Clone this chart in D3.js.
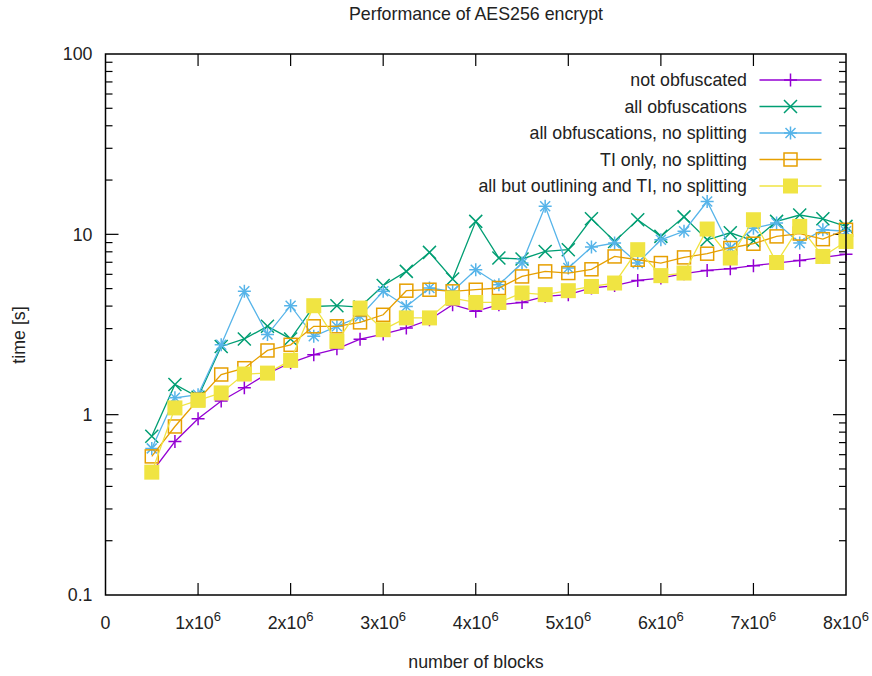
<!DOCTYPE html>
<html lang="en">
<head>
<meta charset="UTF-8">
<script src="https://d3js.org/d3.v7.min.js"></script>
<style>
  body { margin: 0; background: #fff; }
  svg text { font-family: "Liberation Sans", Arial, sans-serif; font-size: 17.8px; fill: #222; }
</style>
</head>
<body>
<div id="chart"></div>
<script>
// number of blocks (x values)
const blocks = [0.5e6, 0.75e6, 1e6, 1.25e6, 1.5e6, 1.75e6, 2e6, 2.25e6, 2.5e6, 2.75e6,
  3e6, 3.25e6, 3.5e6, 3.75e6, 4e6, 4.25e6, 4.5e6, 4.75e6, 5e6, 5.25e6,
  5.5e6, 5.75e6, 6e6, 6.25e6, 6.5e6, 6.75e6, 7e6, 7.25e6, 7.5e6, 7.75e6, 8e6];

// time [s] per series
const notObfuscated = [0.48, 0.71, 0.95, 1.19, 1.41, 1.69, 1.94, 2.15, 2.32, 2.62,
  2.8, 3.02, 3.36, 4.07, 3.74, 4.07, 4.19, 4.53, 4.63, 5.04,
  5.2, 5.55, 5.72, 6.05, 6.31, 6.45, 6.7, 6.93, 7.17, 7.45, 7.75];
const allObfuscations = [0.76, 1.47, 1.25, 2.39, 2.63, 3.09, 2.63, 3.98, 4.02, 3.95,
  5.2, 6.23, 7.94, 5.65, 11.8, 7.39, 7.3, 8.04, 8.22, 12.2,
  9.13, 12.05, 9.74, 12.5, 9.33, 10.2, 9.21, 11.8, 12.8, 12.2, 11.07];
const allNoSplitting = [0.65, 1.24, 1.29, 2.44, 4.83, 2.78, 4.02, 2.72, 3.09, 3.5,
  4.83, 3.98, 5.04, 4.83, 6.36, 5.25, 6.93, 14.3, 6.5, 8.5,
  8.95, 6.93, 9.33, 10.4, 15.2, 8.4, 10.8, 11.55, 8.95, 10.6, 10.4];
const tiOnly = [0.587, 0.86, 1.21, 1.67, 1.81, 2.27, 2.44, 3.09, 3.09, 3.25,
  3.58, 4.87, 4.93, 4.83, 4.93, 5.04, 5.84, 6.23, 6.1, 6.4,
  7.54, 7.23, 6.93, 7.45, 7.81, 8.4, 8.87, 9.74, 10.1, 9.4, 10.6];
const butOutlining = [0.48, 1.09, 1.2, 1.32, 1.68, 1.7, 2.0, 4.02, 2.55, 3.9,
  2.96, 3.44, 3.44, 4.43, 4.19, 4.19, 4.73, 4.63, 4.87, 5.14,
  5.37, 8.22, 5.9, 6.1, 10.7, 7.39, 12.05, 6.98, 11.07, 7.54, 9.13];

const xTicks = [0, 1e6, 2e6, 3e6, 4e6, 5e6, 6e6, 7e6, 8e6];
const yTicks = [0.1, 1, 10, 100];

const series = [
  { name: "not obfuscated", values: notObfuscated, color: "#9400d3", marker: "plus" },
  { name: "all obfuscations", values: allObfuscations, color: "#009e73", marker: "cross" },
  { name: "all obfuscations, no splitting", values: allNoSplitting, color: "#56b4e9", marker: "star" },
  { name: "TI only, no splitting", values: tiOnly, color: "#e69f00", marker: "box" },
  { name: "all but outlining and TI, no splitting", values: butOutlining, color: "#f0e442", marker: "fbox" }
];

const W = 872, H = 676;
const margin = { top: 54, right: 26, bottom: 81, left: 105.5 };
const width = W - margin.left - margin.right,
      height = H - margin.top - margin.bottom;

const svg = d3.select('#chart').append('svg')
  .attr('width', W).attr('height', H);

const g = svg.append('g')
  .attr('transform', 'translate(' + margin.left + ',' + margin.top + ')');

const x = d3.scaleLinear().domain([0, 8e6]).range([0, width]);
const y = d3.scaleLog().domain([0.1, 100]).range([height, 0]);

// minor log ticks
const minor = [];
[0.1, 1, 10].forEach(d => { for (let k = 2; k <= 9; k++) minor.push(d * k); });

// ticks (inward, mirrored)
const tickG = g.append('g').attr('stroke', '#000').attr('stroke-width', 1.2);
xTicks.slice(1, -1).forEach(t => {
  tickG.append('line').attr('x1', x(t)).attr('x2', x(t)).attr('y1', height).attr('y2', height - 12);
  tickG.append('line').attr('x1', x(t)).attr('x2', x(t)).attr('y1', 0).attr('y2', 12);
});
yTicks.slice(1, -1).forEach(t => {
  tickG.append('line').attr('x1', 0).attr('x2', 13).attr('y1', y(t)).attr('y2', y(t));
  tickG.append('line').attr('x1', width).attr('x2', width - 13).attr('y1', y(t)).attr('y2', y(t));
});
minor.forEach(t => {
  tickG.append('line').attr('x1', 0).attr('x2', 7).attr('y1', y(t)).attr('y2', y(t));
  tickG.append('line').attr('x1', width).attr('x2', width - 7).attr('y1', y(t)).attr('y2', y(t));
});

// tick labels
xTicks.forEach(t => {
  const txt = g.append('text')
    .attr('x', x(t)).attr('y', height + 34)
    .attr('text-anchor', 'middle');
  if (t === 0) { txt.text('0'); return; }
  txt.append('tspan').text((t / 1e6) + 'x10');
  txt.append('tspan').attr('dy', -8).attr('font-size', '13px').text('6');
});
yTicks.forEach(t => {
  g.append('text')
    .attr('x', -13).attr('y', y(t)).attr('dy', '0.35em')
    .attr('text-anchor', 'end')
    .text(t < 1 ? '0.1' : String(t));
});

// series lines and points
const line = d3.line().x((d, i) => x(blocks[i])).y(d => y(d));

function marker(sel, type, color) {
  const s = 6.5;
  if (type === 'plus' || type === 'star') {
    sel.append('path').attr('d', `M${-s},0H${s}M0,${-s}V${s}`)
      .attr('stroke', color).attr('stroke-width', 1.5).attr('fill', 'none');
  }
  if (type === 'cross' || type === 'star') {
    const c = type === 'star' ? 5 : 6.5;
    sel.append('path').attr('d', `M${-c},${-c}L${c},${c}M${-c},${c}L${c},${-c}`)
      .attr('stroke', color).attr('stroke-width', 1.5).attr('fill', 'none');
  }
  if (type === 'box') {
    sel.append('rect').attr('x', -6.5).attr('y', -6.5).attr('width', 13).attr('height', 13)
      .attr('stroke', color).attr('stroke-width', 1.5).attr('fill', 'none');
  }
  if (type === 'fbox') {
    sel.append('rect').attr('x', -7.5).attr('y', -7.5).attr('width', 15).attr('height', 15)
      .attr('fill', color);
  }
}

series.forEach(s => {
  const sg = g.append('g');
  sg.append('path').datum(s.values)
    .attr('d', line)
    .attr('fill', 'none').attr('stroke', s.color).attr('stroke-width', 1.3);
  sg.selectAll('.pt').data(s.values).enter().append('g')
    .attr('class', 'pt')
    .attr('transform', (d, i) => 'translate(' + x(blocks[i]) + ',' + y(d) + ')')
    .each(function () { marker(d3.select(this), s.marker, s.color); });
});

// legend
series.forEach((s, i) => {
  const ly = 26 + i * 26.5;
  g.append('text')
    .attr('x', 641.5).attr('y', ly).attr('dy', '0.35em')
    .attr('text-anchor', 'end')
    .text(s.name);
  g.append('line')
    .attr('x1', 654).attr('x2', 716).attr('y1', ly).attr('y2', ly)
    .attr('stroke', s.color).attr('stroke-width', 1.3);
  const m = g.append('g').attr('transform', 'translate(685,' + ly + ')');
  marker(m, s.marker, s.color);
});

// border
g.append('rect').attr('width', width).attr('height', height)
  .attr('fill', 'none').attr('stroke', '#000').attr('stroke-width', 1.5);

// titles
svg.append('text').attr('x', 476).attr('y', 20).attr('text-anchor', 'middle')
  .text('Performance of AES256 encrypt');
svg.append('text').attr('x', 476).attr('y', 668).attr('text-anchor', 'middle')
  .text('number of blocks');
svg.append('text')
  .attr('transform', 'translate(25,335) rotate(-90)')
  .attr('text-anchor', 'middle')
  .text('time [s]');
</script>
</body>
</html>
